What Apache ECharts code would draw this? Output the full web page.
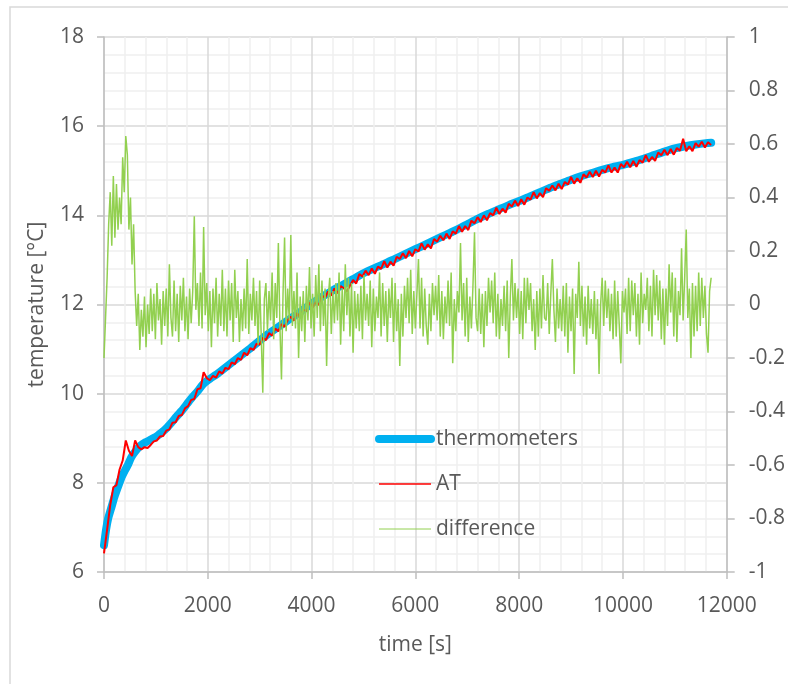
<!DOCTYPE html>
<html>
<head>
<meta charset="utf-8">
<title>temperature vs time</title>
<script src="https://cdn.jsdelivr.net/npm/echarts@6/dist/echarts.min.js"></script>
<style>
  html, body { margin: 0; padding: 0; background: #ffffff; }
  #chart { width: 788px; height: 684px; }
</style>
</head>
<body>
<div id="chart"></div>
<script>
// Reference thermometers: smooth mean curve, time [s] -> temperature [°C]
const thermoTimes = [0, 40, 80, 150, 200, 260, 330, 400, 460, 520, 600, 700, 800, 900, 1000,
  1100, 1200, 1300, 1400, 1500, 1600, 1700, 1800, 1900, 2000, 2200, 2400, 2600, 2800, 3000,
  3200, 3400, 3600, 3800, 4000, 4200, 4400, 4600, 4800, 5000, 5200, 5400, 5600, 5800, 6000,
  6200, 6400, 6600, 6800, 7000, 7200, 7400, 7600, 7800, 8000, 8200, 8400, 8600, 8800, 9000,
  9200, 9400, 9600, 9800, 10000, 10200, 10400, 10600, 10800, 11000, 11200, 11400, 11600, 11700];
const thermometers = [6.6, 6.95, 7.2, 7.48, 7.68, 7.88, 8.1, 8.27, 8.4, 8.56, 8.7, 8.83, 8.91, 8.97, 9.03,
  9.12, 9.22, 9.35, 9.49, 9.62, 9.77, 9.92, 10.05, 10.2, 10.3, 10.46, 10.64, 10.82, 11.0, 11.19,
  11.37, 11.53, 11.69, 11.85, 12.02, 12.17, 12.31, 12.44, 12.57, 12.7, 12.81, 12.91, 13.02, 13.13, 13.24,
  13.35, 13.46, 13.57, 13.68, 13.8, 13.92, 14.03, 14.13, 14.23, 14.32, 14.42, 14.52, 14.62, 14.71, 14.8,
  14.88, 14.95, 15.02, 15.08, 15.13, 15.2, 15.27, 15.35, 15.43, 15.5, 15.55, 15.59, 15.62, 15.63];

// AT sensor, logged every 60 s from t = 0
const AT_STEP = 60;
const AT = [6.42, 6.95, 7.5, 7.9, 7.95, 8.3, 8.5, 8.95, 8.72, 8.6, 8.95, 8.8, 8.75, 8.8, 8.78,
  8.85, 8.93, 8.95, 9.04, 9.05, 9.17, 9.2, 9.35, 9.36, 9.5, 9.52, 9.67, 9.72, 9.86, 9.88,
  10.1, 10.12, 10.48, 10.35, 10.3, 10.4, 10.36, 10.5, 10.45, 10.58, 10.55, 10.7, 10.66, 10.8, 10.76,
  10.92, 10.86, 11.02, 10.98, 11.12, 11.1, 11.25, 11.2, 11.36, 11.3, 11.46, 11.4, 11.56, 11.5, 11.65,
  11.73, 11.64, 11.81, 11.7, 11.88, 11.85, 12.05, 11.92, 12.06, 11.99, 12.2, 12.15, 12.29, 12.2, 12.36,
  12.25, 12.41, 12.37, 12.29, 12.42, 12.55, 12.47, 12.68, 12.63, 12.76, 12.66, 12.81, 12.69, 12.85, 12.8,
  12.97, 12.83, 12.96, 12.87, 13.07, 13.02, 13.15, 13.04, 13.2, 13.08, 13.24, 13.19, 13.37, 13.23, 13.35,
  13.26, 13.47, 13.41, 13.54, 13.44, 13.59, 13.47, 13.64, 13.59, 13.76, 13.63, 13.76, 13.67, 13.88, 13.82,
  13.96, 13.85, 14.0, 13.89, 14.05, 14.0, 14.17, 14.03, 14.15, 14.06, 14.26, 14.2, 14.33, 14.21, 14.36,
  14.24, 14.4, 14.35, 14.52, 14.38, 14.5, 14.41, 14.61, 14.55, 14.67, 14.56, 14.71, 14.59, 14.75, 14.69,
  14.86, 14.71, 14.83, 14.73, 14.92, 14.85, 14.98, 14.86, 15.0, 14.87, 15.02, 14.96, 15.12, 14.96, 15.07,
  14.96, 15.15, 15.08, 15.2, 15.08, 15.22, 15.09, 15.24, 15.18, 15.35, 15.2, 15.31, 15.22, 15.41, 15.35,
  15.47, 15.35, 15.49, 15.36, 15.51, 15.45, 15.72, 15.44, 15.55, 15.44, 15.62, 15.54, 15.65, 15.52, 15.64, 15.58];

// Difference AT - thermometers, logged every 30 s from t = 0 (one row = 450 s)
const DIFF_STEP = 30;
const difference = [
  -0.2, -0.05, 0.1, 0.3, 0.42, 0.22, 0.48, 0.25, 0.45, 0.28, 0.4, 0.3, 0.55, 0.42, 0.63,
  0.56, 0.28, 0.4, 0.15, 0.3, 0.05, -0.08, 0.04, -0.17, -0.02, -0.12, 0.03, -0.16, 0.0, -0.11,
  0.06, -0.1, 0.04, -0.13, 0.08, -0.06, 0.02, -0.15, 0.05, -0.08, 0.06, -0.12, 0.15, -0.05, -0.12,
  0.09, -0.1, 0.04, -0.14, 0.07, -0.06, 0.1, -0.1, 0.03, -0.13, 0.06, -0.07, 0.05, 0.33, -0.02,
  0.08, -0.08, 0.12, -0.09, 0.29, -0.04, 0.08, -0.1, 0.05, -0.16, 0.06, -0.07, 0.1, -0.12, 0.04,
  -0.08, 0.13, -0.1, 0.06, -0.12, 0.09, -0.06, 0.08, -0.14, 0.13, -0.05, 0.05, -0.14, 0.02, -0.1,
  0.06, -0.09, 0.17, -0.11, 0.04, -0.06, 0.1, -0.08, 0.05, -0.15, 0.09, -0.12, -0.33, 0.02, 0.08,
  -0.1, 0.05, -0.06, 0.12, -0.13, 0.08, -0.05, 0.23, -0.08, -0.28, 0.04, 0.25, -0.1, 0.06, -0.06,
  0.26, -0.08, 0.05, -0.09, 0.12, -0.2, 0.03, -0.1, 0.05, -0.14, 0.07, -0.06, 0.14, -0.09, 0.04,
  -0.12, 0.11, -0.05, 0.15, -0.1, 0.09, -0.08, 0.06, -0.23, 0.02, 0.1, -0.11, 0.05, -0.07, 0.08,
  -0.06, 0.12, -0.15, 0.06, -0.1, 0.15, -0.04, 0.1, -0.12, 0.08, -0.18, 0.05, -0.09, 0.04, -0.1,
  0.07, -0.13, 0.11, -0.06, 0.04, -0.08, 0.09, -0.16, 0.06, -0.1, 0.03, -0.05, 0.12, -0.12, 0.08,
  -0.08, 0.05, -0.14, 0.06, -0.05, 0.1, -0.14, 0.08, -0.1, 0.02, -0.23, 0.04, -0.12, 0.07, -0.05,
  0.1, -0.07, 0.13, -0.11, 0.05, -0.09, 0.04, 0.17, -0.09, 0.1, -0.12, 0.06, -0.08, -0.15, 0.04,
  -0.1, 0.08, -0.04, 0.07, -0.06, 0.11, -0.12, 0.05, -0.13, 0.03, -0.07, 0.09, -0.08, 0.12, -0.22,
  0.02, -0.1, 0.05, -0.03, 0.23, -0.06, 0.08, -0.12, 0.1, -0.14, 0.03, -0.09, 0.07, 0.27, -0.05,
  -0.1, 0.06, -0.11, 0.04, -0.16, 0.05, -0.08, 0.1, -0.03, 0.09, -0.07, 0.12, -0.12, 0.04, -0.13,
  0.02, -0.08, 0.07, -0.1, 0.09, -0.2, 0.03, 0.17, -0.06, 0.08, -0.05, 0.06, -0.11, 0.05, -0.13,
  0.1, -0.07, 0.1, -0.02, 0.08, -0.1, 0.02, -0.17, 0.05, -0.12, 0.06, -0.09, 0.11, -0.05, -0.06,
  0.08, -0.11, 0.04, 0.17, -0.02, -0.14, 0.06, -0.09, 0.02, -0.1, 0.07, -0.12, 0.08, -0.18, 0.03,
  -0.1, 0.06, -0.26, 0.04, -0.05, 0.16, -0.08, 0.07, -0.12, 0.03, -0.15, 0.07, -0.09, 0.02, -0.11,
  0.05, -0.13, 0.02, -0.26, 0.0, 0.1, -0.08, 0.09, -0.05, 0.06, -0.1, 0.04, -0.13, 0.09, -0.12,
  0.05, -0.08, -0.22, 0.05, -0.03, 0.06, -0.11, 0.1, -0.1, 0.09, -0.04, 0.08, -0.12, 0.04, -0.15,
  0.12, -0.07, 0.04, -0.02, 0.1, -0.1, 0.07, -0.12, 0.13, -0.04, 0.11, -0.06, 0.09, -0.13, 0.06,
  -0.15, 0.06, -0.08, 0.15, -0.03, 0.12, -0.12, 0.1, -0.14, 0.05, -0.04, 0.21, -0.06, 0.1, 0.28,
  -0.05, 0.06, -0.2, 0.08, -0.12, 0.07, -0.1, 0.12, -0.08, 0.1, -0.05, 0.07, -0.11, -0.18, 0.05,
  0.1];

const timeTicks = { min: 0, max: 12000, interval: 2000 };
const tempTicks = { min: 6, max: 18, interval: 2 };
const diffTicks = { min: -1, max: 1, interval: 0.2 };

const FONT = '"Open Sans", "Noto Sans", sans-serif';
const TEXT = '#595959';
const AXIS_LINE = '#bfbfbf';
const GRID_MAJOR = '#d9d9d9';
const GRID_MINOR = '#f0f0f0';

const pair = (xs, ys) => ys.map((y, i) => [xs[i], y]);
const sampled = (ys, step) => ys.map((y, i) => [i * step, y]);

const chart = echarts.init(document.getElementById('chart'), null, { renderer: 'canvas' });

chart.setOption({
  animation: false,
  backgroundColor: '#ffffff',
  textStyle: { fontFamily: FONT },
  graphic: [{
    type: 'rect',
    silent: true,
    z: -10,
    shape: { x: 10, y: 7, width: 800, height: 700 },
    style: { fill: 'none', stroke: '#d9d9d9', lineWidth: 1.5 }
  }],
  grid: { left: 104, right: 58, top: 37, bottom: 112, containLabel: false },
  legend: {
    orient: 'vertical',
    left: 370,
    top: 423,
    itemWidth: 52,
    itemHeight: 14,
    itemGap: 23,
    textStyle: { color: TEXT, fontSize: 21, fontFamily: FONT, lineHeight: 22 },
    data: [
      { name: 'thermometers', itemStyle: { opacity: 0 }, lineStyle: { width: 8, cap: 'round' } },
      { name: 'AT', itemStyle: { opacity: 0 }, lineStyle: { width: 1.5 } },
      { name: 'difference', itemStyle: { opacity: 0 }, lineStyle: { width: 1 } }
    ]
  },
  xAxis: {
    type: 'value',
    min: timeTicks.min,
    max: timeTicks.max,
    interval: timeTicks.interval,
    name: 'time [s]',
    nameLocation: 'middle',
    nameGap: 63,
    nameTextStyle: { color: TEXT, fontSize: 21, fontFamily: FONT },
    axisLine: { show: true, onZero: false, lineStyle: { color: AXIS_LINE, width: 1.5 } },
    axisTick: { show: true, length: 7, lineStyle: { color: AXIS_LINE, width: 1.5 } },
    axisLabel: { color: TEXT, fontSize: 21, fontFamily: FONT, margin: 24, formatter: v => String(v) },
    splitLine: { show: true, lineStyle: { color: GRID_MAJOR, width: 1.5 } },
    minorTick: { show: false, splitNumber: 5 },
    minorSplitLine: { show: true, lineStyle: { color: GRID_MINOR, width: 1.5 } }
  },
  yAxis: [{
    type: 'value',
    position: 'left',
    min: tempTicks.min,
    max: tempTicks.max,
    interval: tempTicks.interval,
    name: 'temperature [°C]',
    nameLocation: 'middle',
    nameGap: 56,
    nameRotate: 90,
    nameTextStyle: { color: TEXT, fontSize: 21, fontFamily: FONT },
    axisLine: { show: true, lineStyle: { color: AXIS_LINE, width: 1.5 } },
    axisTick: { show: true, length: 7, lineStyle: { color: AXIS_LINE, width: 1.5 } },
    axisLabel: { color: TEXT, fontSize: 21, fontFamily: FONT, margin: 20 },
    splitLine: { show: true, lineStyle: { color: GRID_MAJOR, width: 1.5 } },
    minorTick: { show: false, splitNumber: 5 },
    minorSplitLine: { show: true, lineStyle: { color: GRID_MINOR, width: 1.5 } }
  }, {
    type: 'value',
    position: 'right',
    min: diffTicks.min,
    max: diffTicks.max,
    interval: diffTicks.interval,
    axisLine: { show: true, lineStyle: { color: AXIS_LINE, width: 1.5 } },
    axisTick: { show: true, length: 8, lineStyle: { color: AXIS_LINE, width: 1.5 } },
    axisLabel: { color: TEXT, fontSize: 21, fontFamily: FONT, margin: 22 },
    splitLine: { show: false }
  }],
  series: [{
    name: 'thermometers',
    type: 'line',
    yAxisIndex: 0,
    data: pair(thermoTimes, thermometers),
    showSymbol: false,
    symbol: 'none',
    smooth: 0.2,
    lineStyle: { color: '#00B0F0', width: 8, cap: 'round', join: 'round' },
    itemStyle: { color: '#00B0F0' }
  }, {
    name: 'AT',
    type: 'line',
    yAxisIndex: 0,
    data: sampled(AT, AT_STEP),
    showSymbol: false,
    symbol: 'none',
    lineStyle: { color: '#FF0000', width: 2 },
    itemStyle: { color: '#FF0000' }
  }, {
    name: 'difference',
    type: 'line',
    yAxisIndex: 1,
    data: sampled(difference, DIFF_STEP),
    showSymbol: false,
    symbol: 'none',
    lineStyle: { color: '#92D050', width: 1.5 },
    itemStyle: { color: '#92D050' }
  }]
});
</script>
</body>
</html>
